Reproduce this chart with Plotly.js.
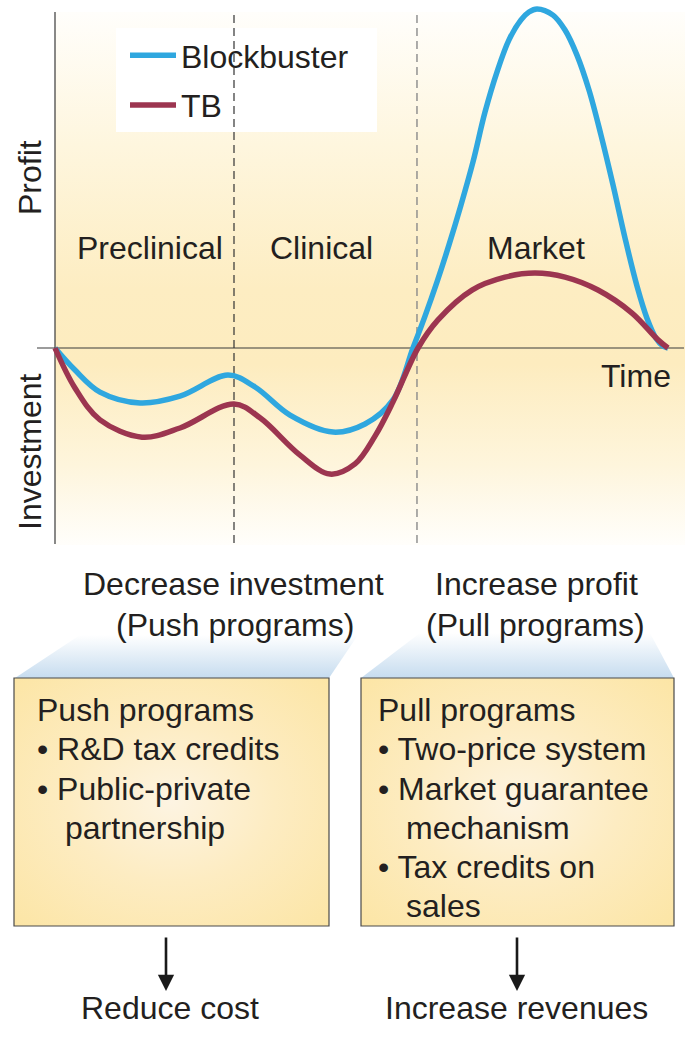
<!DOCTYPE html>
<html>
<head>
<meta charset="utf-8">
<script src="https://cdn.plot.ly/plotly-3.0.1.min.js"></script>
<style>
html,body{margin:0;padding:0;background:#fff;}
#chart{width:685px;height:1044px;}
</style>
</head>
<body>
<div id="chart"></div>
<script>
// ---- Data (time in % of product life, value in arbitrary units) ----
const seriesNames = ['Blockbuster', 'TB'];
const timeBlockbuster = [0, 3.26, 7.34, 13.87, 20.39, 28.22, 32.63, 38.34, 45.35, 50.57, 55.14, 58.40, 60.36, 62.32, 64.27, 66.23, 68.19, 70.15, 72.10, 74.06, 76.02, 77.32, 78.63, 81.24, 83.20, 85.15, 87.11, 89.07, 91.03, 92.99, 94.94, 96.57, 98.04, 99.18, 100];
const valueBlockbuster = [0, -0.65, -1.30, -1.62, -1.42, -0.80, -1.15, -1.98, -2.48, -2.24, -1.53, 0, 0.94, 1.95, 3.04, 4.22, 5.49, 6.96, 8.14, 9.09, 9.68, 9.91, 10.0, 9.82, 9.38, 8.64, 7.61, 6.28, 4.81, 3.24, 1.83, 0.88, 0.29, 0.06, 0];
const timeTB = [0, 3.26, 7.34, 14.19, 20.39, 29.20, 33.44, 39.97, 44.86, 48.94, 52.20, 55.14, 59.22, 62.48, 68.03, 73.41, 78.30, 83.20, 88.58, 94.13, 98.37, 100];
const valueTB = [0, -1.18, -2.12, -2.63, -2.36, -1.65, -2.06, -3.16, -3.72, -3.42, -2.60, -1.59, 0, 0.83, 1.71, 2.09, 2.21, 2.09, 1.71, 1.03, 0.24, 0];
const stageNames = ['Preclinical', 'Clinical', 'Market'];
const stageLabelTime = [15.5, 43.4, 78.5];
const stageBoundaries = [29.2, 59.05];
const axisLabels = {profit: 'Profit', investment: 'Investment', time: 'Time'};
const leftHeading = ['Decrease investment', '(Push programs)'];
const rightHeading = ['Increase profit', '(Pull programs)'];
const pushLines = ['Push programs', '\u2022 R&D tax credits', '\u2022 Public-private', 'partnership'];
const pullLines = ['Pull programs', '\u2022 Two-price system', '\u2022 Market guarantee', 'mechanism', '\u2022 Tax credits on', 'sales'];
const outcomes = ['Reduce cost', 'Increase revenues'];

// ---- Layout helpers ----
const W = 685, H = 1044;
const FONT = 'Liberation Sans, Arial, Helvetica, sans-serif';
const INK = '#231f20';
const FS = 32;
const px = v => v / W;
const py = v => 1 - v / H;
// data axis mapping: t=0 at px 55, 6.13 px per unit; y=0 at py 348, 33.9 px per unit
const X0 = 55, XS = 6.13, Y0 = 348, YS = 33.9;
const xRange = [(0 - X0) / XS, (W - X0) / XS];
const yRange = [(Y0 - H) / YS, (Y0 - 0) / YS];
const ty = v => (Y0 - v) / YS;
const tx = v => (v - X0) / XS;

function svgURI(s) { return 'data:image/svg+xml;charset=utf-8,' + encodeURIComponent(s); }

const bgSVG = `<svg xmlns='http://www.w3.org/2000/svg' width='630' height='533' viewBox='0 0 630 533' preserveAspectRatio='none'>
<defs><linearGradient id='g' x1='0' y1='0' x2='0' y2='1'>
<stop offset='0' stop-color='#fffefb'/>
<stop offset='0.25' stop-color='#fef6de'/>
<stop offset='0.52' stop-color='#fdedc2'/>
<stop offset='0.66' stop-color='#fdecbf'/>
<stop offset='0.85' stop-color='#fef5dc'/>
<stop offset='1' stop-color='#fffefb'/>
</linearGradient></defs>
<rect width='630' height='533' fill='url(#g)'/></svg>`;

function boxSVG(w, h) {
  return `<svg xmlns='http://www.w3.org/2000/svg' width='${w}' height='${h}' viewBox='0 0 ${w} ${h}' preserveAspectRatio='none'>
<defs><radialGradient id='r' cx='0.5' cy='0.5' r='0.72'>
<stop offset='0' stop-color='#fdf4e2'/>
<stop offset='0.45' stop-color='#fdecc2'/>
<stop offset='1' stop-color='#fce5a4'/>
</radialGradient></defs>
<rect width='${w}' height='${h}' fill='url(#r)'/></svg>`;
}
function funnelSVG(w, h, pts) {
  return `<svg xmlns='http://www.w3.org/2000/svg' width='${w}' height='${h}' viewBox='0 0 ${w} ${h}' preserveAspectRatio='none'>
<defs><linearGradient id='f' x1='0' y1='0' x2='0' y2='1'>
<stop offset='0' stop-color='#ffffff'/>
<stop offset='1' stop-color='#c6dcef'/>
</linearGradient></defs>
<polygon points='${pts}' fill='url(#f)'/></svg>`;
}

const images = [
  {source: svgURI(bgSVG), xref: 'paper', yref: 'paper', x: px(55), y: py(12), sizex: px(630), sizey: 533 / H, xanchor: 'left', yanchor: 'top', sizing: 'stretch', layer: 'below'},
  {source: svgURI(funnelSVG(343, 43, '65,0 343,0 314,43 0,43')), xref: 'paper', yref: 'paper', x: px(15), y: py(635), sizex: px(343), sizey: 43 / H, xanchor: 'left', yanchor: 'top', sizing: 'stretch', layer: 'below'},
  {source: svgURI(funnelSVG(313, 45, '59,0 289,0 313,45 0,45')), xref: 'paper', yref: 'paper', x: px(361), y: py(633), sizex: px(313), sizey: 45 / H, xanchor: 'left', yanchor: 'top', sizing: 'stretch', layer: 'below'},
  {source: svgURI(boxSVG(315, 248)), xref: 'paper', yref: 'paper', x: px(14), y: py(678), sizex: px(315), sizey: 248 / H, xanchor: 'left', yanchor: 'top', sizing: 'stretch', layer: 'below'},
  {source: svgURI(boxSVG(313, 248)), xref: 'paper', yref: 'paper', x: px(361), y: py(678), sizex: px(313), sizey: 248 / H, xanchor: 'left', yanchor: 'top', sizing: 'stretch', layer: 'below'}
];

const shapes = [
  // zero line and vertical axis
  {type: 'line', xref: 'x', yref: 'y', x0: tx(37), x1: tx(684), y0: 0, y1: 0, line: {color: '#3a3a3a', width: 1.2}, layer: 'below'},
  {type: 'line', xref: 'x', yref: 'y', x0: 0, x1: 0, y0: ty(12), y1: ty(544), line: {color: '#3a3a3a', width: 1.2}, layer: 'below'},
  // stage boundaries
  {type: 'line', xref: 'x', yref: 'y', x0: stageBoundaries[0], x1: stageBoundaries[0], y0: ty(15), y1: ty(544), line: {color: '#333', width: 1.2, dash: '8px,5px'}, layer: 'below'},
  {type: 'line', xref: 'x', yref: 'y', x0: stageBoundaries[1], x1: stageBoundaries[1], y0: ty(15), y1: ty(544), line: {color: '#8a8a8a', width: 1.4, dash: '8px,5px'}, layer: 'below'},
  // legend box
  {type: 'rect', xref: 'paper', yref: 'paper', x0: px(116), x1: px(377), y0: py(28), y1: py(132), fillcolor: '#ffffff', line: {width: 0}, layer: 'below'},
  // policy boxes borders
  {type: 'rect', xref: 'paper', yref: 'paper', x0: px(14), x1: px(329), y0: py(678), y1: py(926), fillcolor: 'rgba(0,0,0,0)', line: {color: '#4a4a4a', width: 1.2}},
  {type: 'rect', xref: 'paper', yref: 'paper', x0: px(361), x1: px(674), y0: py(678), y1: py(926), fillcolor: 'rgba(0,0,0,0)', line: {color: '#4a4a4a', width: 1.2}}
];

function txt(text, x, y, opts) {
  return Object.assign({text: text, x: px(x), y: py(y), xref: 'paper', yref: 'paper', showarrow: false,
    font: {family: FONT, size: FS, color: INK}, xanchor: 'center', yanchor: 'middle'}, opts || {});
}

const annotations = [
  txt(axisLabels.profit, 30, 178, {textangle: -90}),
  txt(axisLabels.investment, 30, 452, {textangle: -90}),
  txt(axisLabels.time, 636, 376),
  txt(leftHeading[0], 233, 584),
  txt(leftHeading[1], 235, 625),
  txt(rightHeading[0], 536, 584),
  txt(rightHeading[1], 535, 625),
  txt(outcomes[0], 170, 1008),
  txt(outcomes[1], 516, 1008)
];
stageNames.forEach((s, i) => annotations.push({text: s, x: stageLabelTime[i], y: ty(248), xref: 'x', yref: 'y', showarrow: false,
  font: {family: FONT, size: FS, color: INK}, xanchor: 'center', yanchor: 'middle'}));

const lineYs = [710, 749, 789, 828, 867, 906];
pushLines.forEach((s, i) => annotations.push(txt(s, (i === 3 ? 63 : 35), lineYs[i], {xanchor: 'left'})));
pullLines.forEach((s, i) => annotations.push(txt(s, ((i === 3 || i === 5) ? 404 : 376), lineYs[i], {xanchor: 'left'})));

// arrows
[166, 517].forEach(x => annotations.push({x: px(x), y: py(991), xref: 'paper', yref: 'paper', ax: 0, ay: -55, axref: 'pixel', ayref: 'pixel',
  showarrow: true, arrowhead: 2, arrowsize: 1.25, arrowwidth: 2.6, arrowcolor: '#1a1a1a', text: ''}));

const traces = [
  {x: timeBlockbuster, y: valueBlockbuster, name: seriesNames[0], type: 'scatter', mode: 'lines', legendgroup: 'a',
   line: {color: '#2fa7df', width: 5.5, shape: 'spline', smoothing: 1}, hoverinfo: 'skip'},
  {x: timeTB, y: valueTB, name: seriesNames[1], type: 'scatter', mode: 'lines', legendgroup: 'b',
   line: {color: '#9c3550', width: 5.5, shape: 'spline', smoothing: 1}, hoverinfo: 'skip'}
];

const layout = {
  width: W, height: H,
  margin: {l: 0, r: 0, t: 0, b: 0, pad: 0},
  paper_bgcolor: '#ffffff', plot_bgcolor: 'rgba(0,0,0,0)',
  xaxis: {range: xRange, visible: false, showgrid: false, zeroline: false, fixedrange: true},
  yaxis: {range: yRange, visible: false, showgrid: false, zeroline: false, fixedrange: true},
  showlegend: true,
  legend: {x: px(125), y: py(28), xanchor: 'left', yanchor: 'top', bgcolor: 'rgba(0,0,0,0)', borderwidth: 0,
    font: {family: FONT, size: FS, color: INK}, traceorder: 'grouped', tracegroupgap: 5, itemwidth: 46},
  shapes: shapes,
  annotations: annotations,
  images: images
};

Plotly.newPlot('chart', traces, layout, {staticPlot: true, displayModeBar: false});
</script>
</body>
</html>
